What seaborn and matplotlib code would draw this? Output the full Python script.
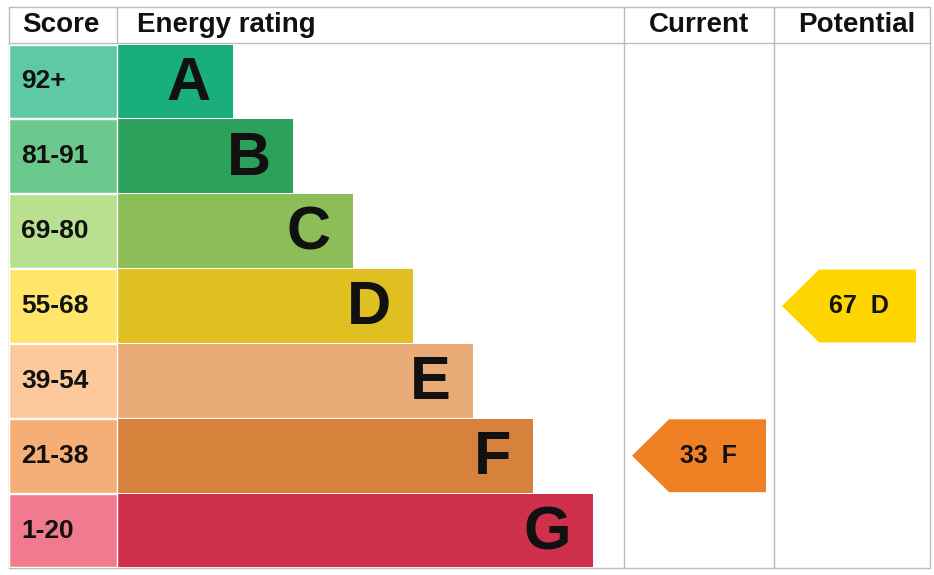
import matplotlib
matplotlib.use('Agg')
import matplotlib.pyplot as plt
import seaborn as sns
import pandas as pd
from matplotlib.patches import Polygon

letters = ['A', 'B', 'C', 'D', 'E', 'F', 'G']
scores = ['92+', '81-91', '69-80', '55-68', '39-54', '21-38', '1-20']
bar_length = [116, 176, 236, 296, 356, 416, 476]
band_colors = ['#00c781', '#19b459', '#8dce46', '#ffd500', '#fcaa65', '#ef8023', '#e9153b']
score_colors = ['#5fc8a5', '#6cc98d', '#b9e08f', '#ffe66a', '#fdc99c', '#f4ae76', '#f27a8e']
current_value, current_band = 33, 'F'
potential_value, potential_band = 67, 'D'

sns.set_style('white')
plt.rcParams['font.family'] = ['Liberation Sans', 'DejaVu Sans']

fig = plt.figure(figsize=(9.34, 5.75), dpi=100)
W, H = 934, 575
ax = fig.add_axes([0, 0, 1, 1])
ax.set_xlim(0, W)
ax.set_ylim(H, 0)
ax.axis('off')

# bar axes: x 9..624 px, y 44..568 px
x0, x1, y0, y1 = 9, 624, 44, 568
score_w = 108
bx = fig.add_axes([x0 / W, 1 - y1 / H, (x1 - x0) / W, (y1 - y0) / H])
df = pd.DataFrame({'letter': letters, 'len': [score_w + b for b in bar_length]})
sns.barplot(data=df, y='letter', x='len', hue='letter', palette=band_colors,
            width=0.985, linewidth=0, legend=False, ax=bx, orient='h')
bx.barh(range(7), [score_w] * 7, height=0.985, color=score_colors, zorder=3)
bx.set_xlim(0, x1 - x0)
bx.set_ylim(6.5, -0.5)
bx.axis('off')
for i, (l, s, b) in enumerate(zip(letters, scores, bar_length)):
    bx.text(score_w + b - 22, i + 0.04, l, ha='right', va='center',
            fontsize=44, fontweight='bold', color='#111111', zorder=4)
    bx.text(12, i, s, ha='left', va='center', fontsize=19,
            fontweight='bold', color='#111111', zorder=4)

# grid
gc = '#bbbbbb'
ax.plot([9, 930, 930, 9, 9], [7, 7, 568, 568, 7], color=gc, lw=1)
ax.plot([9, 930], [43, 43], color=gc, lw=1)
ax.plot([117, 117], [7, 43], color=gc, lw=1)
for xv in (624, 774):
    ax.plot([xv, xv], [7, 568], color=gc, lw=1)

hdr = dict(fontsize=20, fontweight='bold', va='center', color='#111111')
ax.text(22, 25, 'Score', ha='left', **hdr)
ax.text(137, 25, 'Energy rating', ha='left', **hdr)
ax.text(699, 25, 'Current', ha='center', **hdr)
ax.text(857, 25, 'Potential', ha='center', **hdr)

row_h = (y1 - y0) / 7


def arrow(xl, xr, band, value):
    i = letters.index(band)
    t, b = y0 + i * row_h + 1, y0 + (i + 1) * row_h - 1
    m = (t + b) / 2
    ax.add_patch(Polygon([[xl, m], [xl + 37, t], [xr, t], [xr, b], [xl + 37, b]],
                         closed=True, color=band_colors[i], lw=0))
    ax.text((xl + xr) / 2 + 10, m, f'{value}  {band}', ha='center', va='center',
            fontsize=18, fontweight='bold', color='#111111')


arrow(632, 766, current_band, current_value)
arrow(782, 916, potential_band, potential_value)

fig.savefig('out.png', dpi=100)
